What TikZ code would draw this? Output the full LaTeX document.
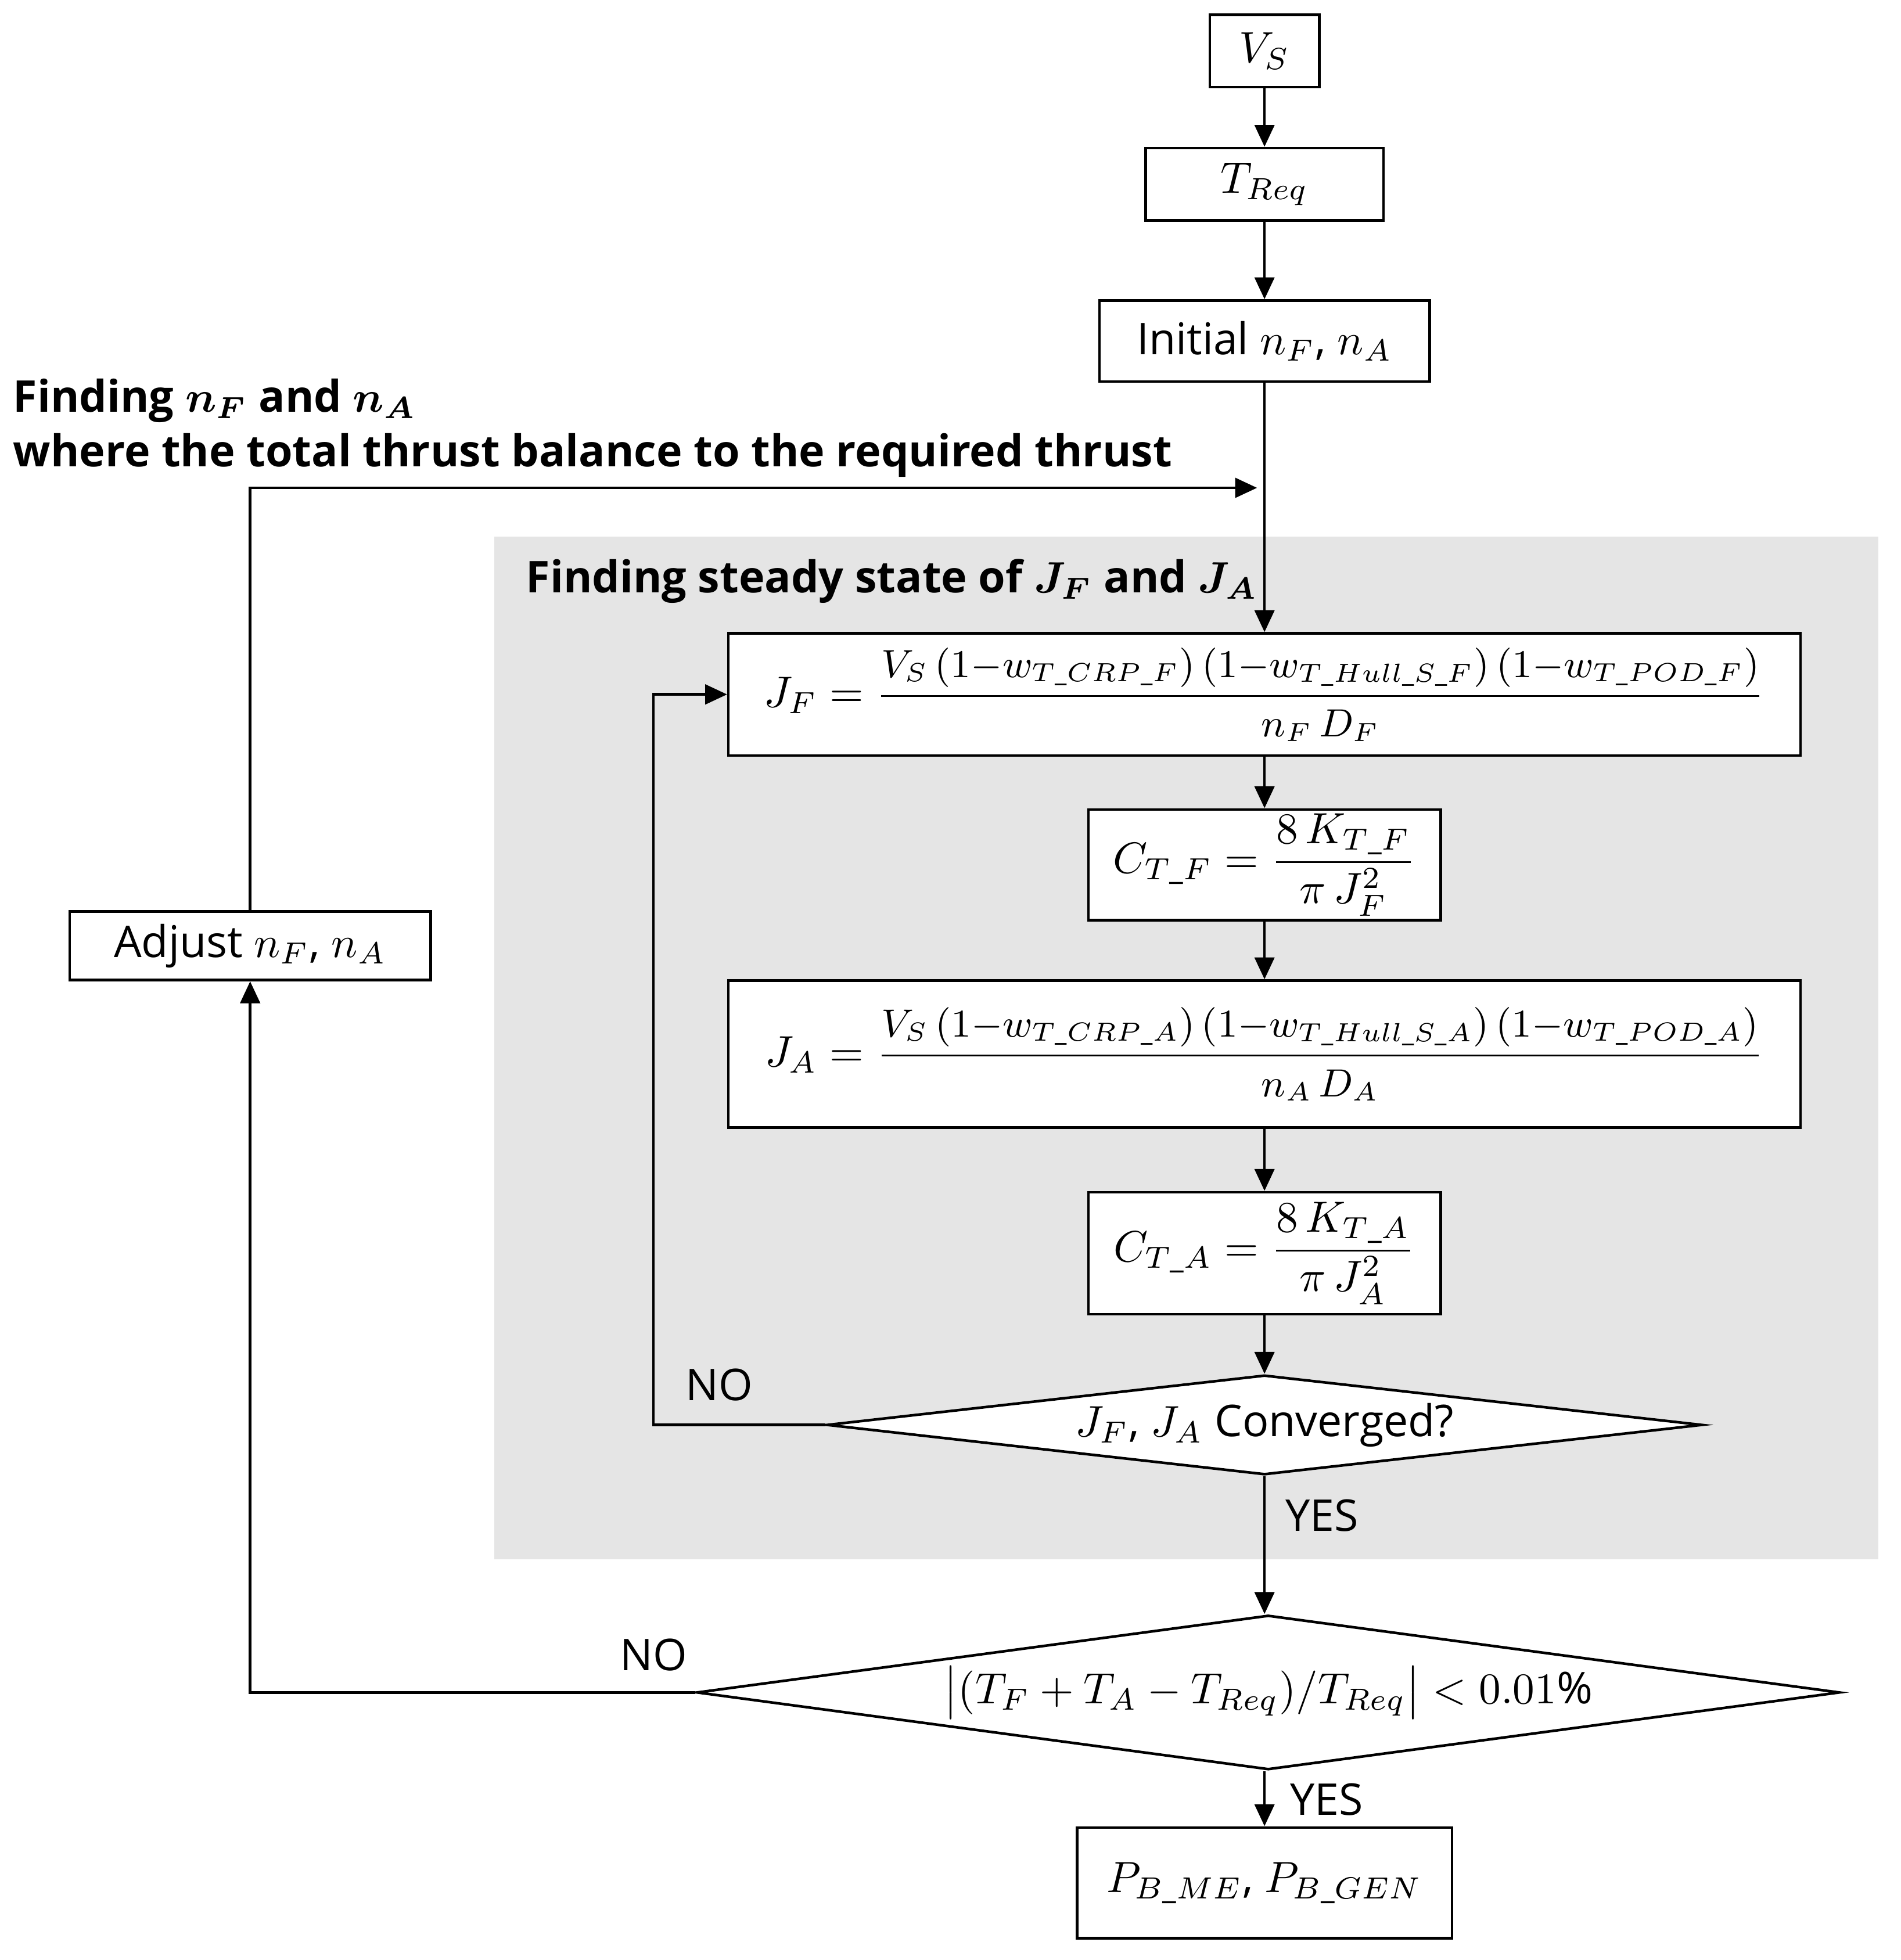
\documentclass[tikz,border=0pt]{standalone}
\usepackage{amsmath}
\usepackage{fontspec}
\setmainfont{Open Sans}
\usetikzlibrary{shapes.geometric,arrows.meta}
\begin{document}
\begin{tikzpicture}[x=0.01cm,y=-0.01cm,
  box/.style={draw,line width=0.6pt,fill=white,inner sep=0pt,font=\fontsize{10}{12}\selectfont},
  dia/.style={draw,line width=0.6pt,fill=white,diamond,inner sep=0pt,font=\fontsize{10}{12}\selectfont},
  arr/.style={-{Triangle[length=5pt,width=4.5pt]},line width=0.6pt},
  lab/.style={font=\fontsize{10}{12}\selectfont,inner sep=0pt}]
\useasboundingbox (0,0) rectangle (1527,1575);
\fill[gray!20] (397,431) rectangle (1509,1253);
\node[box,minimum width=0.88cm,minimum height=0.58cm] (vs) at (1016,41) {$V_S$};
\node[box,minimum width=1.91cm,minimum height=0.58cm] (treq) at (1016,148) {$T_{Req}$};
\node[box,minimum width=2.65cm,minimum height=0.65cm] (init) at (1016,274) {Initial $n_F$, $n_A$};
\node[lab,anchor=west,font=\fontsize{10}{12}\selectfont\bfseries] (t1) at (10,322) {Finding $\boldsymbol{n_F}$ and $\boldsymbol{n_A}$};
\node[lab,anchor=west,font=\fontsize{10}{12}\selectfont\bfseries] (t2) at (10,366) {where the total thrust balance to the required thrust};
\node[lab,anchor=west,font=\fontsize{10}{12}\selectfont\bfseries] (t3) at (422,467) {Finding steady state of $\boldsymbol{J_F}$ and $\boldsymbol{J_A}$};
\node[box,minimum width=8.61cm,minimum height=0.98cm] (jf) at (1016,558) {$J_F=\dfrac{\text{\small$V_S\,(1{-}w_{T\_CRP\_F})\,(1{-}w_{T\_Hull\_S\_F})\,(1{-}w_{T\_POD\_F})$}}{\text{\small$n_F\,D_F$}}$};
\node[box,minimum width=2.83cm,minimum height=0.89cm] (ctf) at (1016,695) {$C_{T\_F}=\dfrac{8\,K_{T\_F}}{\pi\,J_F^2}$};
\node[box,minimum width=8.61cm,minimum height=1.18cm] (ja) at (1016,847) {$J_A=\dfrac{\text{\small$V_S\,(1{-}w_{T\_CRP\_A})\,(1{-}w_{T\_Hull\_S\_A})\,(1{-}w_{T\_POD\_A})$}}{\text{\small$n_A\,D_A$}}$};
\node[box,minimum width=2.83cm,minimum height=0.98cm] (cta) at (1016,1007) {$C_{T\_A}=\dfrac{8\,K_{T\_A}}{\pi\,J_A^2}$};
\node[dia,minimum width=7.03cm,minimum height=0.80cm,aspect=8.8] (d1) at (1016,1145) {$J_F$, $J_A$ Converged?};
\node[dia,minimum width=9.18cm,minimum height=1.24cm,aspect=7.4] (d2) at (1019,1360) {$\bigl|(T_F+T_A-T_{Req})/T_{Req}\bigr|<0.01\%$};
\node[box,minimum width=3.01cm,minimum height=0.89cm] (pb) at (1016,1513) {$P_{B\_ME}$, $P_{B\_GEN}$};
\node[box,minimum width=2.90cm,minimum height=0.55cm] (adj) at (201,760) {Adjust $n_F$, $n_A$};
\node[lab] (no1) at (578,1113) {NO};
\node[lab] (yes1) at (1062,1218) {YES};
\node[lab] (no2) at (525,1330) {NO};
\node[lab] (yes2) at (1066,1446) {YES};
\coordinate (m) at (1016,392);
\draw[arr] (vs) -- (treq);
\draw[arr] (treq) -- (init);
\draw[arr] (init) -- (jf);
\draw[arr] (jf) -- (ctf);
\draw[arr] (ctf) -- (ja);
\draw[arr] (ja) -- (cta);
\draw[arr] (cta) -- (d1);
\draw[arr] (d1.south) -- (d1.south |- d2.north);
\draw[arr] (d2.south -| d1.south) -- (pb);
\draw[arr] (d1.west) -- (525,1145) -- (525,558) -- (jf.west);
\draw[arr] (d2.west) -- (adj.south |- d2.west) -- (adj.south);
\draw[arr] (adj.north) -- (adj.north |- m) -- (1010,392);
\end{tikzpicture}
\end{document}
